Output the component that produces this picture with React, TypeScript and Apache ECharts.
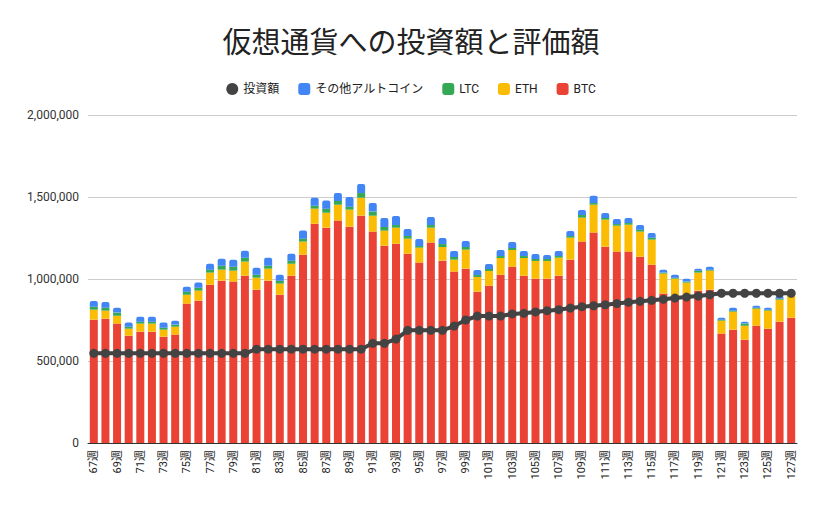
import React, { useEffect, useRef } from "react";
import * as echarts from "echarts";

const weeks: string[] = [];
for (let w = 67; w <= 127; w++) weeks.push(w + "週");

// values in thousands of yen
const btc = [752, 758, 728, 654, 679, 679, 648, 661, 850, 868, 965, 990, 984, 1020, 935, 990, 904, 1020, 1148, 1337, 1313, 1356, 1319, 1386, 1289, 1203, 1215, 1154, 1100, 1222, 1112, 1045, 1063, 923, 959, 1026, 1075, 1020, 1002, 1002, 1020, 1118, 1228, 1283, 1197, 1167, 1167, 1136, 1087, 911, 886, 874, 929, 935, 667, 691, 630, 715, 697, 740, 764];
const eth = [61, 49, 48, 43, 49, 49, 43, 48, 54, 61, 74, 67, 67, 86, 73, 73, 68, 73, 80, 92, 91, 97, 104, 110, 97, 92, 98, 92, 91, 91, 83, 73, 116, 89, 90, 102, 102, 108, 108, 108, 110, 134, 146, 170, 165, 158, 164, 153, 153, 122, 116, 104, 110, 116, 79, 110, 85, 104, 110, 134, 140];
const ltc = [18, 18, 19, 12, 12, 12, 12, 13, 19, 18, 18, 24, 24, 24, 18, 18, 18, 19, 18, 18, 25, 23, 18, 28, 25, 22, 16, 16, 10, 16, 18, 16, 16, 12, 12, 12, 12, 12, 12, 12, 10, 10, 16, 10, 10, 10, 10, 12, 12, 6, 6, 6, 12, 6, 6, 6, 13, 6, 6, 6, 6];
const others = [35, 35, 30, 25, 30, 30, 31, 24, 30, 31, 36, 43, 43, 43, 43, 49, 36, 42, 49, 49, 49, 48, 59, 55, 52, 55, 55, 43, 43, 49, 37, 37, 37, 31, 30, 37, 37, 31, 30, 24, 31, 31, 31, 45, 30, 31, 31, 28, 28, 18, 18, 18, 12, 18, 12, 18, 12, 12, 12, 18, 12];
const invest = [547, 547, 547, 547, 547, 547, 547, 547, 547, 547, 547, 547, 547, 547, 572, 572, 572, 572, 572, 572, 572, 572, 572, 572, 608, 608, 634, 687, 687, 687, 687, 713, 750, 774, 774, 774, 787, 791, 799, 807, 813, 823, 831, 837, 843, 850, 858, 864, 870, 876, 884, 890, 896, 904, 913, 913, 913, 913, 913, 913, 913];

const yen = (a: number[]) => a.map((v) => v * 1000);

const FONT = "Roboto, 'Noto Sans CJK JP', sans-serif";

export default function App() {
  const ref = useRef<HTMLDivElement>(null);
  useEffect(() => {
    if (!ref.current) return;
    const chart = echarts.init(ref.current, null, { renderer: "svg" });
    const barCommon = {
      type: "bar" as const,
      stack: "total",
      barWidth: 8,
    };
    chart.setOption({
      animation: false,
      textStyle: { fontFamily: FONT },
      title: {
        text: "仮想通貨への投資額と評価額",
        left: "center",
        top: 23,
        textStyle: { fontSize: 29, fontWeight: "normal", color: "#222", fontFamily: FONT },
      },
      legend: {
        top: 78,
        left: "center",
        itemWidth: 12,
        itemHeight: 12,
        itemGap: 19,
        textStyle: { fontSize: 12, color: "#222", fontFamily: FONT },
        data: [
          { name: "投資額", icon: "circle", itemStyle: { color: "#434343" } },
          { name: "その他アルトコイン", icon: "roundRect" },
          { name: "LTC", icon: "roundRect" },
          { name: "ETH", icon: "roundRect" },
          { name: "BTC", icon: "roundRect" },
        ],
      },
      grid: { left: 88, right: 25, top: 115, bottom: 65, containLabel: false },
      xAxis: {
        type: "category",
        data: weeks,
        axisTick: { show: false },
        axisLine: { lineStyle: { color: "#333", width: 1 } },
        axisLabel: { interval: 1, rotate: 90, fontSize: 11, color: "#222", margin: 7 },
      },
      yAxis: {
        type: "value",
        min: 0,
        max: 2000000,
        interval: 500000,
        axisLabel: {
          fontSize: 12,
          color: "#333",
          margin: 9,
          formatter: (v: number) => v.toLocaleString("en-US"),
        },
        splitLine: { lineStyle: { color: "#ccc" } },
      },
      series: [
        { ...barCommon, name: "BTC", data: yen(btc), itemStyle: { color: "#EA4335" } },
        { ...barCommon, name: "ETH", data: yen(eth), itemStyle: { color: "#FBBC04" } },
        { ...barCommon, name: "LTC", data: yen(ltc), itemStyle: { color: "#34A853" } },
        {
          ...barCommon,
          name: "その他アルトコイン",
          data: yen(others),
          itemStyle: { color: "#4285F4", borderRadius: [2, 2, 0, 0] },
        },
        {
          type: "line",
          name: "投資額",
          data: yen(invest),
          z: 10,
          symbol: "circle",
          symbolSize: 9,
          showAllSymbol: true,
          lineStyle: { color: "#434343", width: 4 },
          itemStyle: { color: "#434343" },
        },
      ],
    });
    return () => chart.dispose();
  }, []);
  return (
    <div
      ref={ref}
      style={{ position: "absolute", left: 0, top: 0, width: 822, height: 508 }}
    />
  );
}
